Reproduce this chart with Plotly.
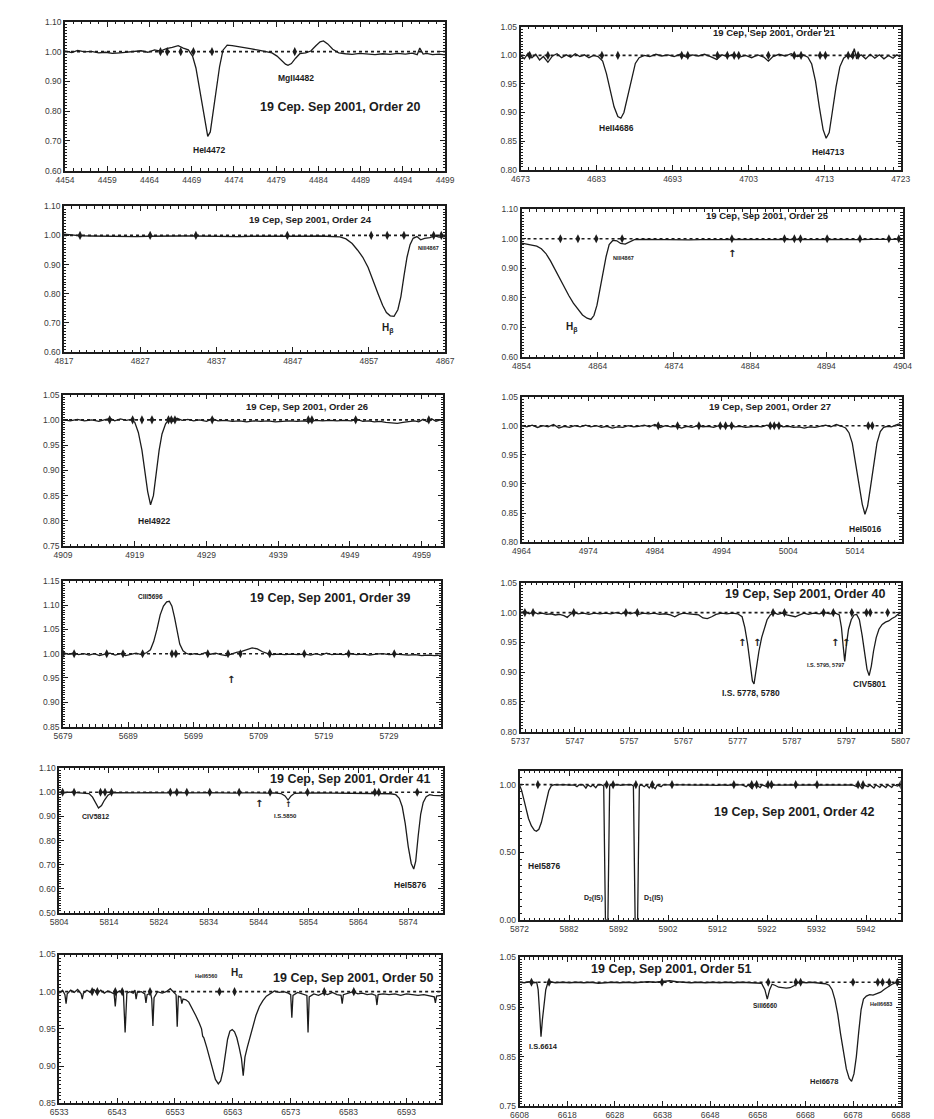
import plotly.graph_objects as go

W, H = 934, 1119

# ---------------- spectra (wavelength [A], normalised flux) ----------------
p1_spec = [(4454.0, 1.002), (4454.8, 0.997), (4455.5, 1.004), (4456.3, 0.999), (4457.1, 1.001), (4458.0, 0.996),
           (4458.8, 0.998), (4459.6, 0.994), (4460.5, 0.996), (4461.3, 0.998), (4462.1, 1.000), (4463.0, 1.003),
           (4463.8, 0.998), (4464.6, 1.006), (4465.3, 1.002), (4466.0, 1.010), (4466.7, 1.014), (4467.4, 1.020),
           (4468.0, 1.012), (4468.6, 1.006), (4469.1, 0.985), (4469.5, 0.945), (4469.9, 0.880), (4470.3, 0.810),
           (4470.6, 0.755), (4470.9, 0.715), (4471.2, 0.730), (4471.5, 0.790), (4471.9, 0.870), (4472.3, 0.950),
           (4472.7, 1.005), (4473.2, 1.022), (4473.8, 1.020), (4474.5, 1.016), (4475.3, 1.013), (4476.1, 1.009),
           (4476.9, 1.005), (4477.7, 1.001), (4478.5, 0.996), (4479.1, 0.985), (4479.7, 0.968), (4480.1, 0.958),
           (4480.4, 0.954), (4480.8, 0.960), (4481.3, 0.978), (4481.8, 0.993), (4482.5, 0.996), (4483.1, 1.002),
           (4483.7, 1.020), (4484.2, 1.033), (4484.6, 1.036), (4485.1, 1.026), (4485.7, 1.008), (4486.4, 0.996),
           (4487.2, 0.993), (4488.0, 0.991), (4488.9, 0.994), (4489.8, 0.992), (4490.7, 0.990), (4491.6, 0.993),
           (4492.5, 0.991), (4493.4, 0.994), (4494.3, 0.992), (4495.1, 0.995), (4495.7, 0.990), (4496.0, 1.012),
           (4496.4, 0.992), (4496.8, 0.994), (4497.5, 0.990), (4498.3, 0.992), (4499.0, 0.989)]

p2_spec = [(4673.0, 1.000), (4673.5, 0.994), (4674.0, 1.004), (4674.5, 0.996), (4675.0, 1.002), (4675.5, 0.992),
           (4676.0, 0.998), (4676.6, 0.988), (4677.2, 0.999), (4677.8, 1.003), (4678.4, 0.996), (4679.0, 1.001),
           (4679.6, 0.997), (4680.2, 1.003), (4680.8, 0.998), (4681.4, 1.001), (4682.0, 0.996), (4682.6, 1.000),
           (4683.2, 0.998), (4683.8, 0.990), (4684.3, 0.968), (4684.8, 0.938), (4685.3, 0.910), (4685.8, 0.893),
           (4686.2, 0.890), (4686.6, 0.900), (4687.1, 0.930), (4687.6, 0.962), (4688.1, 0.986), (4688.6, 0.996),
           (4689.3, 1.000), (4690.0, 0.998), (4690.8, 1.002), (4691.6, 0.999), (4692.4, 1.001), (4693.2, 0.998),
           (4694.0, 1.002), (4694.8, 0.997), (4695.6, 1.001), (4696.4, 0.999), (4697.2, 1.002), (4698.0, 0.998),
           (4698.8, 0.993), (4699.5, 1.001), (4700.2, 0.998), (4701.0, 1.002), (4701.8, 0.997), (4702.6, 1.000),
           (4703.4, 0.996), (4704.2, 1.001), (4705.0, 0.997), (4705.6, 0.990), (4706.2, 0.998), (4707.0, 1.002),
           (4707.8, 0.999), (4708.6, 1.003), (4709.4, 0.998), (4710.2, 1.001), (4710.8, 0.997), (4711.3, 0.985),
           (4711.8, 0.955), (4712.3, 0.910), (4712.8, 0.870), (4713.2, 0.855), (4713.6, 0.865), (4714.0, 0.900),
           (4714.5, 0.945), (4715.0, 0.980), (4715.5, 0.995), (4716.1, 1.001), (4716.6, 0.997), (4716.9, 1.012),
           (4717.2, 0.995), (4717.8, 1.001), (4718.4, 0.994), (4719.0, 1.002), (4719.6, 0.995), (4720.2, 1.001),
           (4720.8, 0.994), (4721.4, 1.000), (4722.0, 0.995), (4722.5, 1.001), (4723.0, 0.997)]

p3_spec = [(4817.0, 1.004), (4818.0, 1.001), (4819.0, 0.999), (4820.5, 0.998), (4822.0, 0.997), (4823.5, 0.998),
           (4825.0, 0.997), (4826.5, 0.996), (4828.0, 0.997), (4829.5, 0.998), (4831.0, 0.997), (4832.5, 0.998),
           (4834.0, 0.998), (4835.5, 0.997), (4837.0, 0.998), (4838.5, 0.997), (4840.0, 0.996), (4841.5, 0.997),
           (4843.0, 0.996), (4844.5, 0.997), (4846.0, 0.997), (4847.5, 0.996), (4849.0, 0.997), (4850.5, 0.998),
           (4852.0, 0.997), (4853.2, 0.995), (4854.0, 0.988), (4854.8, 0.972), (4855.5, 0.950), (4856.2, 0.925),
           (4856.9, 0.890), (4857.6, 0.845), (4858.2, 0.800), (4858.8, 0.760), (4859.3, 0.735), (4859.8, 0.724),
           (4860.3, 0.722), (4860.8, 0.745), (4861.2, 0.790), (4861.6, 0.860), (4862.0, 0.925), (4862.4, 0.968),
           (4862.8, 0.990), (4863.3, 0.996), (4863.8, 0.985), (4864.3, 0.990), (4865.0, 0.992), (4865.6, 0.998),
           (4866.2, 0.994), (4867.0, 0.996)]

p4_spec = [(4854.0, 0.985), (4854.6, 0.982), (4855.3, 0.980), (4856.0, 0.975), (4856.6, 0.966), (4857.2, 0.950),
           (4857.8, 0.925), (4858.4, 0.895), (4859.0, 0.865), (4859.6, 0.835), (4860.2, 0.808), (4860.8, 0.782),
           (4861.4, 0.760), (4862.0, 0.742), (4862.6, 0.731), (4863.1, 0.727), (4863.5, 0.740), (4863.9, 0.775),
           (4864.3, 0.830), (4864.7, 0.885), (4865.1, 0.940), (4865.5, 0.980), (4866.0, 0.995), (4866.5, 0.993),
           (4867.0, 0.984), (4867.6, 0.982), (4868.2, 0.990), (4868.8, 0.997), (4870.0, 0.998), (4871.5, 0.997),
           (4873.0, 0.996), (4874.5, 0.997), (4876.0, 0.996), (4877.5, 0.997), (4879.0, 0.996), (4880.5, 0.997),
           (4882.0, 0.998), (4883.5, 0.997), (4885.0, 0.998), (4886.5, 0.997), (4888.0, 0.998), (4889.5, 0.997),
           (4891.0, 0.998), (4892.5, 0.997), (4894.0, 0.998), (4895.5, 0.997), (4897.0, 0.996), (4898.5, 0.997),
           (4900.0, 0.998), (4901.5, 0.997), (4903.0, 0.998), (4904.0, 0.998)]

p5_spec = [(4909.0, 1.000), (4910.0, 0.998), (4911.0, 1.001), (4912.0, 0.998), (4913.0, 1.000), (4914.0, 0.997),
           (4915.0, 1.001), (4915.6, 1.003), (4916.2, 0.998), (4917.0, 1.002), (4917.8, 0.999), (4918.5, 1.001),
           (4919.0, 0.995), (4919.5, 0.975), (4920.0, 0.940), (4920.4, 0.900), (4920.8, 0.858), (4921.2, 0.832),
           (4921.6, 0.850), (4922.0, 0.895), (4922.4, 0.940), (4922.8, 0.972), (4923.3, 0.992), (4923.8, 1.002),
           (4924.3, 0.997), (4924.9, 1.003), (4925.6, 0.999), (4926.4, 1.001), (4927.2, 0.998), (4928.0, 1.000),
           (4929.0, 0.997), (4929.8, 1.002), (4930.6, 0.998), (4931.6, 0.999), (4932.6, 0.997), (4933.6, 0.998),
           (4934.6, 0.996), (4935.6, 0.998), (4936.6, 0.997), (4937.6, 0.998), (4938.6, 0.996), (4939.6, 0.997),
           (4940.6, 0.998), (4941.6, 0.997), (4942.6, 0.998), (4943.4, 0.996), (4944.2, 0.999), (4945.2, 0.998),
           (4946.2, 0.999), (4947.2, 0.998), (4948.2, 0.999), (4949.2, 0.998), (4950.0, 1.001), (4950.8, 0.997),
           (4951.6, 0.998), (4952.4, 0.996), (4953.2, 0.997), (4954.0, 0.995), (4954.8, 0.994), (4955.6, 0.993),
           (4956.4, 0.995), (4957.2, 0.996), (4958.0, 0.998), (4958.6, 0.996), (4959.2, 1.001), (4959.8, 0.996),
           (4960.4, 1.002), (4961.0, 0.997), (4961.6, 1.000), (4962.0, 0.998)]

p6_spec = [(4964.0, 1.000), (4964.8, 0.998), (4965.6, 1.001), (4966.4, 0.997), (4967.2, 1.000), (4968.0, 0.998),
           (4968.8, 1.002), (4969.6, 0.996), (4970.4, 0.999), (4971.2, 0.997), (4972.0, 1.000), (4972.8, 0.998),
           (4973.6, 1.001), (4974.4, 0.998), (4975.2, 1.000), (4976.0, 0.997), (4976.8, 0.999), (4977.6, 0.996),
           (4978.4, 0.998), (4979.2, 0.997), (4980.0, 1.000), (4980.8, 0.998), (4981.6, 0.999), (4982.4, 1.001),
           (4983.2, 0.998), (4984.0, 1.002), (4984.8, 0.997), (4985.6, 1.000), (4986.4, 0.998), (4987.2, 0.999),
           (4988.0, 0.996), (4988.8, 0.999), (4989.6, 0.997), (4990.4, 1.000), (4991.2, 0.998), (4992.0, 0.999),
           (4992.8, 0.997), (4993.6, 1.000), (4994.4, 0.998), (4995.2, 1.000), (4996.0, 0.998), (4996.8, 0.999),
           (4997.6, 0.997), (4998.4, 0.998), (4999.2, 0.999), (5000.0, 0.998), (5000.8, 1.001), (5001.6, 0.999),
           (5002.4, 1.002), (5003.2, 0.998), (5004.0, 0.999), (5004.8, 0.997), (5005.6, 0.998), (5006.4, 0.996),
           (5007.2, 0.998), (5008.0, 0.997), (5008.8, 0.999), (5009.6, 1.001), (5010.4, 0.998), (5011.2, 1.002),
           (5012.0, 0.999), (5012.6, 0.996), (5013.1, 0.988), (5013.6, 0.970), (5014.1, 0.935), (5014.6, 0.900),
           (5015.1, 0.865), (5015.5, 0.848), (5015.9, 0.862), (5016.3, 0.892), (5016.8, 0.930), (5017.3, 0.970),
           (5017.8, 0.990), (5018.3, 0.997), (5018.9, 0.999), (5019.5, 0.998), (5020.1, 1.001), (5020.6, 1.003),
           (5021.0, 1.000)]

p7_spec = [(5679.0, 1.002), (5679.8, 0.999), (5680.6, 1.001), (5681.4, 0.998), (5682.2, 1.000), (5683.0, 0.997),
           (5683.8, 1.000), (5684.6, 0.996), (5685.4, 0.999), (5686.2, 1.001), (5687.0, 0.997), (5687.8, 1.000),
           (5688.6, 0.996), (5689.4, 0.999), (5690.2, 1.001), (5691.0, 0.998), (5691.8, 1.002), (5692.4, 1.008),
           (5692.9, 1.025), (5693.4, 1.050), (5693.9, 1.080), (5694.4, 1.098), (5694.9, 1.107), (5695.3, 1.108),
           (5695.7, 1.098), (5696.1, 1.075), (5696.5, 1.045), (5696.9, 1.020), (5697.4, 1.006), (5697.9, 1.001),
           (5698.5, 0.998), (5699.2, 1.000), (5700.0, 0.998), (5700.8, 1.002), (5701.6, 0.999), (5702.4, 1.001),
           (5703.2, 0.998), (5704.0, 0.996), (5704.8, 0.999), (5705.6, 1.003), (5706.4, 1.005), (5707.2, 1.009),
           (5708.0, 1.012), (5708.8, 1.010), (5709.6, 1.004), (5710.4, 1.000), (5711.2, 0.998), (5712.0, 0.999),
           (5713.0, 0.998), (5714.0, 0.999), (5715.0, 0.998), (5716.0, 0.999), (5717.0, 0.997), (5717.8, 1.000),
           (5718.6, 0.997), (5719.4, 1.001), (5720.2, 0.998), (5721.0, 0.999), (5722.0, 0.998), (5723.0, 1.000),
           (5724.0, 0.998), (5725.0, 0.999), (5726.0, 0.997), (5727.0, 0.999), (5728.0, 1.000), (5729.0, 0.998),
           (5730.0, 0.999), (5731.0, 0.998), (5732.0, 0.997), (5733.0, 0.998), (5734.0, 0.996), (5735.0, 0.997),
           (5736.0, 0.996), (5737.0, 0.997)]

p8_spec = [(5737.0, 1.000), (5737.8, 1.002), (5738.6, 0.998), (5739.4, 1.001), (5740.2, 0.998), (5741.0, 0.999),
           (5741.8, 0.997), (5742.6, 0.998), (5743.4, 0.996), (5744.2, 0.997), (5745.0, 0.995), (5745.6, 0.992),
           (5746.2, 0.997), (5746.8, 1.001), (5747.6, 0.998), (5748.6, 0.999), (5749.6, 0.997), (5750.6, 0.999),
           (5751.6, 0.998), (5752.6, 0.999), (5753.6, 0.998), (5754.6, 1.000), (5755.6, 0.998), (5756.4, 1.001),
           (5757.2, 0.998), (5758.0, 1.000), (5758.8, 0.997), (5759.6, 0.999), (5760.6, 0.998), (5761.6, 0.999),
           (5762.6, 0.997), (5763.6, 0.998), (5764.6, 0.996), (5765.4, 0.993), (5766.2, 0.997), (5767.0, 0.999),
           (5768.0, 0.998), (5769.0, 0.997), (5769.8, 0.996), (5770.6, 0.991), (5771.4, 0.990), (5772.2, 0.993),
           (5773.0, 0.997), (5774.0, 0.999), (5775.0, 0.998), (5776.0, 0.999), (5777.0, 0.998), (5777.8, 0.993),
           (5778.3, 0.975), (5778.8, 0.948), (5779.3, 0.910), (5779.7, 0.885), (5780.0, 0.880), (5780.4, 0.905),
           (5780.9, 0.935), (5781.4, 0.958), (5781.9, 0.975), (5782.4, 0.988), (5783.0, 0.996), (5783.6, 1.000),
           (5784.4, 0.997), (5785.2, 0.999), (5786.0, 0.996), (5786.8, 0.994), (5787.6, 0.993), (5788.4, 0.996),
           (5789.2, 0.999), (5790.0, 0.997), (5791.0, 0.999), (5792.0, 0.998), (5793.0, 1.000), (5794.0, 0.998),
           (5795.0, 0.999), (5795.7, 0.996), (5796.1, 0.975), (5796.4, 0.945), (5796.7, 0.918), (5797.0, 0.945),
           (5797.4, 0.972), (5797.9, 0.988), (5798.4, 0.996), (5798.9, 0.997), (5799.4, 0.988), (5799.9, 0.962),
           (5800.4, 0.930), (5800.8, 0.905), (5801.2, 0.894), (5801.6, 0.910), (5802.0, 0.935), (5802.5, 0.958),
           (5803.0, 0.972), (5803.6, 0.980), (5804.2, 0.984), (5804.8, 0.986), (5805.4, 0.990), (5806.0, 0.993),
           (5806.5, 0.997), (5807.0, 1.000)]

p9_spec = [(5804.0, 1.000), (5805.0, 0.998), (5806.0, 1.001), (5807.0, 0.999), (5808.0, 1.000), (5809.0, 0.998),
           (5810.0, 0.995), (5810.7, 0.980), (5811.3, 0.955), (5811.9, 0.935), (5812.5, 0.945), (5813.1, 0.968),
           (5813.8, 0.988), (5814.5, 0.997), (5815.5, 0.999), (5817.0, 0.998), (5818.5, 0.999), (5820.0, 0.998),
           (5821.5, 0.999), (5823.0, 0.998), (5824.5, 0.999), (5826.0, 0.998), (5827.5, 0.999), (5829.0, 0.998),
           (5830.5, 0.999), (5832.0, 0.998), (5833.5, 0.999), (5835.0, 0.998), (5836.5, 0.997), (5838.0, 0.998),
           (5839.5, 0.997), (5841.0, 0.998), (5842.5, 0.997), (5844.0, 0.998), (5845.5, 0.997), (5847.0, 0.998),
           (5848.5, 0.995), (5849.3, 0.985), (5849.9, 0.968), (5850.5, 0.985), (5851.2, 0.996), (5852.5, 0.997),
           (5854.0, 0.998), (5855.5, 0.997), (5857.0, 0.998), (5858.5, 0.997), (5860.0, 0.997), (5861.5, 0.996),
           (5863.0, 0.997), (5864.5, 0.996), (5866.0, 0.997), (5867.5, 0.995), (5869.0, 0.996), (5870.5, 0.994),
           (5871.5, 0.990), (5872.2, 0.975), (5872.8, 0.940), (5873.4, 0.870), (5874.0, 0.775), (5874.6, 0.705),
           (5875.1, 0.682), (5875.5, 0.715), (5876.0, 0.820), (5876.5, 0.910), (5877.0, 0.958), (5877.6, 0.982),
           (5878.3, 0.990), (5879.0, 0.987), (5880.0, 0.986), (5881.0, 0.985)]

p10_spec = [(5872.0, 0.995), (5872.4, 0.960), (5872.8, 0.900), (5873.3, 0.820), (5873.8, 0.750), (5874.4, 0.695),
            (5875.0, 0.662), (5875.4, 0.655), (5875.9, 0.670), (5876.4, 0.720), (5876.9, 0.800), (5877.4, 0.890),
            (5877.9, 0.955), (5878.4, 0.990), (5879.0, 1.000), (5880.0, 0.998), (5881.0, 1.001), (5882.0, 0.997),
            (5883.0, 0.999), (5883.6, 0.985), (5884.0, 0.998), (5884.8, 1.000), (5885.4, 0.975), (5885.8, 0.998),
            (5886.4, 0.985), (5886.8, 0.999), (5887.4, 0.978), (5887.8, 0.999), (5888.5, 1.000), (5889.0, 0.990),
            (5889.2, 0.400), (5889.35, 0.000), (5889.85, 0.000), (5890.0, 0.400), (5890.2, 0.990), (5890.6, 1.002),
            (5891.2, 0.997), (5891.8, 1.000), (5892.4, 0.996), (5893.0, 0.999), (5893.8, 0.997), (5894.6, 1.000),
            (5895.0, 0.990), (5895.2, 0.400), (5895.35, 0.000), (5895.85, 0.000), (5896.0, 0.400), (5896.2, 0.990),
            (5896.6, 1.000), (5897.2, 0.985), (5897.6, 0.999), (5898.2, 0.975), (5898.6, 0.998), (5899.4, 0.970),
            (5899.8, 0.997), (5900.6, 0.985), (5901.0, 0.999), (5902.0, 0.997), (5903.0, 1.000), (5904.0, 0.998),
            (5905.0, 0.999), (5906.0, 0.997), (5907.0, 0.999), (5908.0, 0.996), (5909.0, 0.999), (5910.0, 0.997),
            (5911.0, 0.999), (5912.0, 0.995), (5913.0, 0.999), (5914.0, 0.996), (5915.0, 0.999), (5916.0, 0.997),
            (5917.0, 0.999), (5917.8, 0.985), (5918.2, 1.000), (5919.0, 0.970), (5919.4, 1.000), (5920.0, 0.995),
            (5920.6, 0.978), (5921.0, 0.999), (5922.0, 0.985), (5922.4, 0.999), (5923.4, 0.997), (5924.4, 0.999),
            (5925.4, 0.997), (5926.4, 0.999), (5927.4, 0.997), (5928.4, 0.999), (5929.4, 0.997), (5930.4, 0.998),
            (5931.4, 0.996), (5932.4, 0.999), (5933.4, 0.997), (5934.4, 0.999), (5935.4, 0.997), (5936.4, 0.998),
            (5937.4, 0.997), (5938.4, 0.999), (5939.4, 0.996), (5940.2, 0.985), (5940.6, 1.000), (5941.2, 0.972),
            (5941.6, 0.999), (5942.4, 0.985), (5942.8, 0.998), (5943.6, 0.975), (5944.0, 0.999), (5944.8, 0.980),
            (5945.2, 0.998), (5946.0, 0.978), (5946.4, 0.999), (5947.2, 0.980), (5947.6, 0.998), (5948.4, 0.990),
            (5949.0, 1.005)]

p11_spec = [(6533.0, 0.998), (6533.6, 1.002), (6534.0, 0.996), (6534.2, 0.984), (6534.4, 0.997), (6535.0, 1.002),
            (6535.6, 0.999), (6536.2, 1.003), (6536.8, 0.997), (6537.0, 0.990), (6537.2, 0.998), (6537.8, 1.002),
            (6538.4, 0.999), (6539.0, 1.003), (6539.6, 0.998), (6540.2, 1.002), (6540.8, 0.998), (6541.4, 1.001),
            (6542.0, 0.999), (6542.5, 0.997), (6542.7, 0.980), (6542.9, 0.998), (6543.4, 1.001), (6544.1, 0.999),
            (6544.4, 0.945), (6544.7, 0.998), (6545.2, 1.000), (6545.8, 0.998), (6546.1, 1.002), (6546.3, 0.990),
            (6546.5, 0.999), (6547.2, 1.000), (6547.8, 0.997), (6548.0, 0.985), (6548.2, 0.996), (6548.8, 0.998),
            (6549.0, 0.990), (6549.2, 0.954), (6549.4, 0.992), (6550.0, 1.000), (6550.8, 0.998), (6551.5, 1.000),
            (6552.2, 1.004), (6552.8, 0.999), (6553.2, 0.996), (6553.4, 0.953), (6553.6, 0.994), (6554.0, 0.993),
            (6554.2, 0.984), (6554.4, 0.990), (6554.9, 0.989), (6555.4, 0.986), (6556.0, 0.978), (6556.6, 0.968),
            (6557.2, 0.958), (6557.6, 0.950), (6557.8, 0.940), (6558.0, 0.938), (6558.5, 0.925), (6559.0, 0.910),
            (6559.5, 0.896), (6560.0, 0.882), (6560.5, 0.876), (6560.9, 0.880), (6561.3, 0.893), (6561.7, 0.915),
            (6562.1, 0.936), (6562.5, 0.947), (6562.9, 0.949), (6563.3, 0.946), (6563.7, 0.938), (6564.1, 0.925),
            (6564.5, 0.910), (6564.8, 0.887), (6565.1, 0.912), (6565.5, 0.925), (6566.0, 0.940), (6566.5, 0.955),
            (6567.0, 0.968), (6567.6, 0.980), (6568.2, 0.988), (6568.8, 0.994), (6569.5, 0.998), (6570.2, 1.001),
            (6571.0, 0.999), (6571.8, 1.000), (6572.6, 0.998), (6573.0, 0.996), (6573.2, 0.965), (6573.4, 0.995),
            (6574.2, 0.999), (6575.0, 0.997), (6575.8, 0.995), (6576.0, 0.945), (6576.2, 0.993), (6577.0, 0.997),
            (6577.8, 0.995), (6578.6, 0.998), (6579.4, 0.996), (6580.2, 0.999), (6581.0, 0.996), (6581.7, 0.995),
            (6581.9, 0.984), (6582.1, 0.996), (6583.0, 0.998), (6583.8, 1.000), (6584.6, 0.997), (6585.4, 0.998),
            (6586.2, 0.996), (6587.0, 0.997), (6587.7, 0.995), (6587.9, 0.982), (6588.1, 0.996), (6589.0, 0.997),
            (6590.0, 0.996), (6591.0, 0.997), (6592.0, 0.995), (6593.0, 0.997), (6594.0, 0.996), (6595.0, 0.995),
            (6596.0, 0.996), (6597.0, 0.994), (6597.8, 0.993), (6598.0, 0.985), (6598.2, 0.994), (6599.0, 0.995)]

p12_spec = [(6608.0, 1.000), (6609.0, 0.999), (6610.0, 1.001), (6611.0, 0.999), (6611.6, 1.000), (6611.9, 0.985),
            (6612.2, 0.940), (6612.5, 0.890), (6612.8, 0.925), (6613.1, 0.955), (6613.5, 0.985), (6613.9, 0.998),
            (6614.5, 1.001), (6615.5, 0.999), (6617.0, 1.000), (6618.5, 0.999), (6620.0, 1.000), (6621.5, 0.999),
            (6623.0, 1.000), (6624.5, 0.998), (6626.0, 0.999), (6627.5, 1.000), (6629.0, 0.999), (6630.5, 1.000),
            (6632.0, 0.999), (6633.5, 1.000), (6635.0, 1.001), (6636.5, 1.000), (6638.0, 1.002), (6639.5, 1.003),
            (6641.0, 1.001), (6642.5, 1.000), (6644.0, 0.999), (6645.5, 1.000), (6647.0, 0.999), (6648.5, 1.000),
            (6650.0, 0.999), (6651.5, 1.000), (6653.0, 0.999), (6654.5, 1.000), (6656.0, 0.999), (6657.5, 0.999),
            (6658.8, 0.998), (6659.5, 0.985), (6660.0, 0.966), (6660.5, 0.985), (6661.0, 0.996), (6661.6, 0.994),
            (6662.4, 0.990), (6663.2, 0.989), (6664.0, 0.988), (6664.8, 0.989), (6665.6, 0.993), (6666.4, 0.999),
            (6667.2, 1.000), (6668.2, 0.999), (6669.2, 1.000), (6670.2, 0.999), (6671.2, 0.998), (6672.2, 0.997),
            (6673.0, 0.994), (6673.6, 0.985), (6674.2, 0.965), (6674.8, 0.935), (6675.4, 0.895), (6676.0, 0.855),
            (6676.6, 0.825), (6677.2, 0.806), (6677.7, 0.800), (6678.2, 0.815), (6678.7, 0.850), (6679.2, 0.900),
            (6679.7, 0.945), (6680.2, 0.966), (6680.8, 0.972), (6681.5, 0.975), (6682.2, 0.974), (6683.0, 0.977),
            (6683.8, 0.980), (6684.6, 0.986), (6685.4, 0.991), (6686.2, 0.996), (6687.0, 0.999), (6688.0, 1.000)]

# ---------------- line-identification marks (wavelengths) ----------------
p1_marks = [4465.3, 4466.1, 4467.7, 4469.2, 4471.4, 4481.2]
p2_marks = [4674.2, 4676.6, 4683.7, 4685.8, 4694.2, 4695.0, 4698.9, 4700.2, 4701.1, 4701.7, 4705.6,
            4709.0, 4709.9, 4712.4, 4713.1, 4716.1, 4716.7, 4717.4]
p3_marks = [4819.1, 4828.3, 4834.3, 4846.3, 4857.3, 4859.4, 4861.6, 4865.5, 4866.5]
p4_marks = [4859.1, 4861.4, 4863.8, 4867.2, 4881.6, 4888.5, 4889.8, 4890.6, 4894.1, 4898.4, 4902.2, 4903.5]
p5_marks = [4915.5, 4918.7, 4920.0, 4921.4, 4923.7, 4924.1, 4924.6, 4929.8, 4943.2, 4943.7, 4949.8, 4960.0]
p6_marks = [4984.5, 4987.4, 4990.6, 4993.8, 4994.6, 4995.5, 5001.3, 5001.9, 5002.6, 5016.0, 5016.6]
p7_marks = [5679.0, 5680.7, 5685.7, 5688.2, 5691.2, 5695.7, 5696.3, 5701.2, 5704.3, 5706.2, 5710.7,
            5716.0, 5722.8, 5729.8]
p8_marks = [5737.8, 5739.3, 5746.8, 5756.4, 5758.5, 5783.5, 5785.6, 5792.8, 5794.6, 5798.0, 5800.7,
            5801.4, 5804.6]
p9_marks = [5804.7, 5807.0, 5812.3, 5813.2, 5814.5, 5826.3, 5827.6, 5829.6, 5834.2, 5840.1, 5846.3,
            5853.8, 5867.3, 5868.1, 5875.8]
p10_marks = [5875.7, 5889.6, 5890.9, 5895.5, 5898.8, 5902.8, 5915.3, 5918.9, 5919.9, 5922.2, 5922.9,
             5927.8, 5932.1, 5940.4, 5941.4, 5949.0]
p11_marks = [6538.7, 6539.6, 6542.7, 6543.9, 6548.7, 6560.7, 6563.3, 6578.8, 6583.9]
p12_marks = [6610.5, 6614.2, 6637.9, 6660.2, 6666.0, 6667.0, 6678.0, 6683.2, 6684.2, 6685.6, 6687.3]

# ---------------- titles and labels ----------------
orders = [20, 21, 24, 25, 26, 27, 39, 40, 41, 42, 50, 51]
titles = [f"19 Cep, Sep 2001, Order {o}" for o in orders]
titles[0] = "19 Cep. Sep 2001, Order 20"

p1_labels = ["HeI4472", "MgII4482"]
p2_labels = ["HeII4686", "HeI4713"]
p3_labels = ["H<sub>β</sub>", "NIII4867"]
p4_labels = ["H<sub>β</sub>", "NIII4867", "↑"]
p5_labels = ["HeI4922"]
p6_labels = ["HeI5016"]
p7_labels = ["CIII5696", "↑"]
p8_labels = ["I.S. 5778, 5780", "I.S. 5795, 5797", "CIV5801", "↑", "↑", "↑", "↑"]
p9_labels = ["CIV5812", "I.S.5850", "HeI5876", "↑", "↑"]
p10_labels = ["HeI5876", "D<sub>2</sub>(IS)", "D<sub>1</sub>(IS)"]
p11_labels = ["H<sub>α</sub>", "HeII6560"]
p12_labels = ["I.S.6614", "SiII6660", "HeI6678", "HeII6683"]

# ---------------- axis ticks ----------------
p1_xt = [4454, 4459, 4464, 4469, 4474, 4479, 4484, 4489, 4494, 4499]
p2_xt = [4673, 4683, 4693, 4703, 4713, 4723]
p3_xt = [4817, 4827, 4837, 4847, 4857, 4867]
p4_xt = [4854, 4864, 4874, 4884, 4894, 4904]
p5_xt = [4909, 4919, 4929, 4939, 4949, 4959]
p6_xt = [4964, 4974, 4984, 4994, 5004, 5014]
p7_xt = [5679, 5689, 5699, 5709, 5719, 5729]
p8_xt = [5737, 5747, 5757, 5767, 5777, 5787, 5797, 5807]
p9_xt = [5804, 5814, 5824, 5834, 5844, 5854, 5864, 5874]
p10_xt = [5872, 5882, 5892, 5902, 5912, 5922, 5932, 5942]
p11_xt = [6533, 6543, 6553, 6563, 6573, 6583, 6593]
p12_xt = [6608, 6618, 6628, 6638, 6648, 6658, 6668, 6678, 6688]

yt_a = [0.60, 0.70, 0.80, 0.90, 1.00, 1.10]
yt_b = [0.80, 0.85, 0.90, 0.95, 1.00, 1.05]
yt_c = [0.75, 0.80, 0.85, 0.90, 0.95, 1.00, 1.05]
yt_d = [0.85, 0.90, 0.95, 1.00, 1.05, 1.10, 1.15]
yt_e = [0.50, 0.60, 0.70, 0.80, 0.90, 1.00, 1.10]
yt_f = [0.00, 0.50, 1.00]
yt_g = [0.85, 0.90, 0.95, 1.00, 1.05]
yt_h = [0.75, 0.85, 0.95, 1.05]

# ---------------- layout of the 12 panels (pixel boxes) ----------------
BIG, SMALL, LAB, ARW = 12.5, 9.5, 8.5, 10
panels = [
    dict(spec=p1_spec, marks=p1_marks, xt=p1_xt, yt=yt_a, box=(49, 437, 9, 159), xr=(4454, 4499), yr=(0.60, 1.10), ymin=0.01,
         title=(4486.6, 0.815, BIG),
         labels=list(zip(p1_labels, [(4471.0, 0.668, LAB), (4481.4, 0.912, LAB)]))),
    dict(spec=p2_spec, marks=p2_marks, xt=p2_xt, yt=yt_b, box=(514, 902, 14, 158), xr=(4673, 4723), yr=(0.80, 1.05), ymin=0.005,
         title=(4706.4, 1.040, SMALL),
         labels=list(zip(p2_labels, [(4685.6, 0.872, LAB), (4713.4, 0.830, LAB)]))),
    dict(spec=p3_spec, marks=p3_marks, xt=p3_xt, yt=yt_a, box=(48, 437, 195, 342), xr=(4817, 4867), yr=(0.60, 1.10), ymin=0.01,
         title=(4849.3, 1.055, SMALL),
         labels=list(zip(p3_labels, [(4859.5, 0.680, 10), (4864.8, 0.957, 5.5)]))),
    dict(spec=p4_spec, marks=p4_marks, xt=p4_xt, yt=yt_a, box=(515, 904, 198, 347), xr=(4854, 4904), yr=(0.60, 1.10), ymin=0.01,
         title=(4886.3, 1.078, SMALL),
         labels=list(zip(p4_labels, [(4860.6, 0.700, 10), (4867.4, 0.936, 5.5), (4881.6, 0.950, ARW)]))),
    dict(spec=p5_spec, marks=p5_marks, xt=p5_xt, yt=yt_c, box=(47, 435, 385, 538), xr=(4909, 4962), yr=(0.75, 1.05), ymin=0.005,
         title=(4943.0, 1.027, SMALL),
         labels=list(zip(p5_labels, [(4921.7, 0.800, LAB)]))),
    dict(spec=p6_spec, marks=p6_marks, xt=p6_xt, yt=yt_b, box=(515, 903, 387, 534), xr=(4964, 5021), yr=(0.80, 1.05), ymin=0.005,
         title=(5001.3, 1.033, SMALL),
         labels=list(zip(p6_labels, [(5015.5, 0.822, LAB)]))),
    dict(spec=p7_spec, marks=p7_marks, xt=p7_xt, yt=yt_d, box=(47, 433, 573, 720), xr=(5679, 5737), yr=(0.85, 1.15), ymin=0.005,
         title=(5720.0, 1.115, BIG),
         labels=list(zip(p7_labels, [(5692.4, 1.117, 6.5), (5704.7, 0.947, ARW)]))),
    dict(spec=p8_spec, marks=p8_marks, xt=p8_xt, yt=yt_b, box=(514, 902, 575, 725), xr=(5737, 5807), yr=(0.80, 1.05), ymin=0.005,
         title=(5789.5, 1.032, BIG),
         labels=list(zip(p8_labels, [(5779.5, 0.864, LAB), (5793.2, 0.912, 5.5), (5801.3, 0.880, LAB),
                                     (5777.8, 0.950, ARW), (5780.5, 0.950, ARW), (5794.9, 0.950, ARW),
                                     (5797.0, 0.950, ARW)]))),
    dict(spec=p9_spec, marks=p9_marks, xt=p9_xt, yt=yt_e, box=(43, 435, 762, 908), xr=(5804, 5881), yr=(0.50, 1.10), ymin=0.01,
         title=(5862.5, 1.055, BIG),
         labels=list(zip(p9_labels, [(5811.3, 0.900, 7), (5849.3, 0.900, 6), (5874.3, 0.615, LAB),
                                     (5844.0, 0.955, ARW), (5849.9, 0.950, 8)]))),
    dict(spec=p10_spec, marks=p10_marks, xt=p10_xt, yt=yt_f, box=(513, 902, 765, 915), xr=(5872, 5949), yr=(0.00, 1.10), ymin=0.05,
         title=(5927.5, 0.800, BIG),
         labels=list(zip(p10_labels, [(5877.0, 0.400, LAB), (5886.9, 0.160, 7), (5899.1, 0.160, 7)]))),
    dict(spec=p11_spec, marks=p11_marks, xt=p11_xt, yt=yt_g, box=(43, 433, 950, 1100), xr=(6533, 6599), yr=(0.85, 1.05), ymin=0.005,
         title=(6583.8, 1.018, BIG),
         labels=list(zip(p11_labels, [(6563.7, 1.025, 10), (6558.4, 1.021, 5.5)]))),
    dict(spec=p12_spec, marks=p12_marks, xt=p12_xt, yt=yt_h, box=(513, 902, 953, 1103), xr=(6608, 6688), yr=(0.75, 1.05), ymin=0.005,
         title=(6640.0, 1.026, BIG),
         labels=list(zip(p12_labels, [(6613.0, 0.870, 7.5), (6659.6, 0.953, 6.5), (6672.0, 0.800, 7.5),
                                      (6683.8, 0.956, 5.5)]))),
]

INK = "#1c1c1c"
FONT = "Liberation Sans"

fig = go.Figure()
layout = dict(width=W, height=H, margin=dict(l=0, r=0, t=0, b=0), autosize=False,
              paper_bgcolor="white", plot_bgcolor="white", showlegend=False)
shapes, annotations = [], []

for i, p in enumerate(panels, start=1):
    sfx = "" if i == 1 else str(i)
    xa, ya = "x" + sfx, "y" + sfx
    wl = [a for a, b in p["spec"]]
    fx = [b for a, b in p["spec"]]
    fig.add_trace(go.Scatter(x=wl, y=fx, mode="lines", line=dict(color=INK, width=1.3),
                             xaxis=xa, yaxis=ya, hoverinfo="skip", showlegend=False))
    fig.add_trace(go.Scatter(x=p["marks"], y=[1.0] * len(p["marks"]), mode="markers",
                             marker=dict(symbol="diamond-tall", size=6.5, color=INK),
                             xaxis=xa, yaxis=ya, hoverinfo="skip", showlegend=False))
    x0, x1, ytop, ybot = p["box"]
    axis_common = dict(showline=True, linecolor=INK, linewidth=1.6, mirror="allticks",
                       ticks="inside", ticklen=5, tickwidth=1, tickcolor=INK, showgrid=False, zeroline=False,
                       tickfont=dict(family=FONT, size=8.5, color="#3a3a3a"), fixedrange=True)
    layout["xaxis" + sfx] = dict(axis_common, domain=[x0 / W, x1 / W], range=list(p["xr"]), anchor=ya,
                                 tickmode="array", tickvals=p["xt"], ticktext=[str(v) for v in p["xt"]],
                                 minor=dict(ticks="inside", ticklen=2.5, dtick=1, tick0=p["xr"][0], tickcolor=INK))
    layout["yaxis" + sfx] = dict(axis_common, domain=[1 - ybot / H, 1 - ytop / H], range=list(p["yr"]), anchor=xa,
                                 tickmode="array", tickvals=p["yt"], ticktext=[f"{v:.2f}" for v in p["yt"]],
                                 minor=dict(ticks="inside", ticklen=2.5, dtick=p["ymin"], tick0=0, tickcolor=INK))
    shapes.append(dict(type="line", xref=xa + " domain", yref=ya, x0=0, x1=1, y0=1.0, y1=1.0,
                       line=dict(color=INK, width=1.6, dash="dot"), layer="below"))
    tx, ty, ts = p["title"]
    annotations.append(dict(x=tx, y=ty, xref=xa, yref=ya, text=f"<b>{titles[i - 1]}</b>", showarrow=False,
                            font=dict(family=FONT, size=ts, color=INK), xanchor="center", yanchor="middle"))
    for text, (lx, ly, ls) in p["labels"]:
        fam = "DejaVu Sans" if text == "↑" else FONT
        annotations.append(dict(x=lx, y=ly, xref=xa, yref=ya, text=f"<b>{text}</b>", showarrow=False,
                                font=dict(family=fam, size=ls, color=INK), xanchor="center", yanchor="middle"))

layout["shapes"] = shapes
layout["annotations"] = annotations
fig.update_layout(**layout)
fig.write_html("out.html")
